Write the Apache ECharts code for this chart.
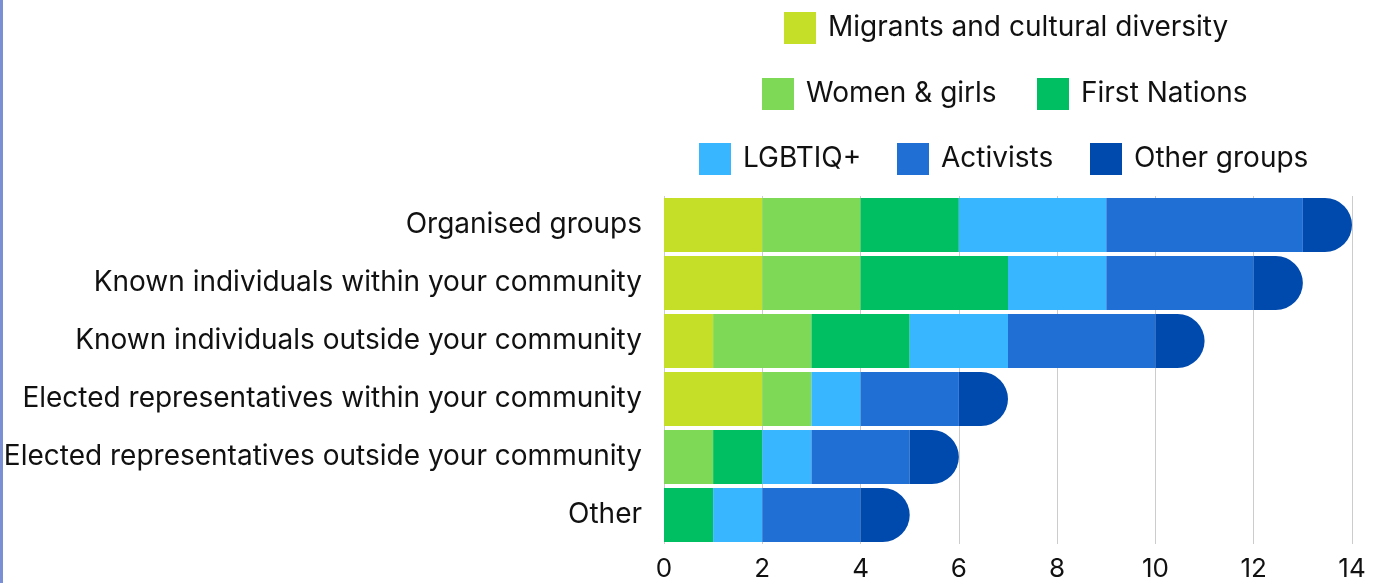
<!DOCTYPE html>
<html><head><meta charset="utf-8">
<script src="https://cdn.jsdelivr.net/npm/echarts@6/dist/echarts.min.js"></script>
<style>html,body{margin:0;padding:0;background:#fff;}#c{width:1378px;height:583px;}#bar{position:absolute;left:0;top:0;width:3px;height:583px;background:#7b8fd4;}</style>
</head><body><div id="c"></div><div id="bar"></div>
<script>
const categories = ["Organised groups","Known individuals within your community","Known individuals outside your community","Elected representatives within your community","Elected representatives outside your community","Other"];
const seriesNames = ["Migrants and cultural diversity","Women & girls","First Nations","LGBTIQ+","Activists","Other groups"];
const migrants = [2,2,1,2,0,0];
const women = [2,2,2,1,1,0];
const firstNations = [2,3,2,0,1,1];
const lgbtiq = [3,2,2,1,1,1];
const activists = [4,3,3,2,2,2];
const otherGroups = [1,1,1,1,1,1];
const xTicks = {min:0,max:14,interval:2};
const colors = ["#c5de27","#7ed957","#00bf63","#38b6ff","#1f6fd5","#004aad"];

const values = [migrants,women,firstNations,lgbtiq,activists,otherGroups];
const font = "Inter, 'Noto Sans', sans-serif";
// legend item placement (left, top) in pixels
const legendPos = [[784,12],[762,78],[1037,78],[699,143],[897,143],[1090,143]];
const chart = echarts.init(document.getElementById('c'));
const legendBase = {orient:'horizontal',itemWidth:32,itemHeight:32,itemGap:0,
  textStyle:{fontSize:28,lineHeight:32,color:'#111',fontFamily:font,padding:[0,0,0,7]},icon:'rect',selectedMode:false,padding:0};
chart.setOption({
  animation:false,
  color:colors,
  legend:seriesNames.map((n,i)=>Object.assign({},legendBase,{data:[n],left:legendPos[i][0],top:legendPos[i][1]})),
  grid:{left:664,right:26,top:196,bottom:39,containLabel:false},
  xAxis:{type:'value',min:xTicks.min,max:xTicks.max,interval:xTicks.interval,
    axisLine:{show:false},axisTick:{show:false},
    splitLine:{lineStyle:{color:'#cccccc',width:1}},
    axisLabel:{fontSize:26,color:'#111',fontFamily:font,margin:12}},
  yAxis:{type:'category',data:categories,inverse:true,
    axisLine:{show:false},axisTick:{show:false},
    axisLabel:{fontSize:28,color:'#111',fontFamily:font,margin:22}},
  series:seriesNames.map((n,i)=>({
    name:n,type:'bar',stack:'total',data:values[i],barCategoryGap:'7%',
    itemStyle:{color:colors[i],borderRadius:i===5?[0,27,27,0]:0}
  }))
});
</script></body></html>
